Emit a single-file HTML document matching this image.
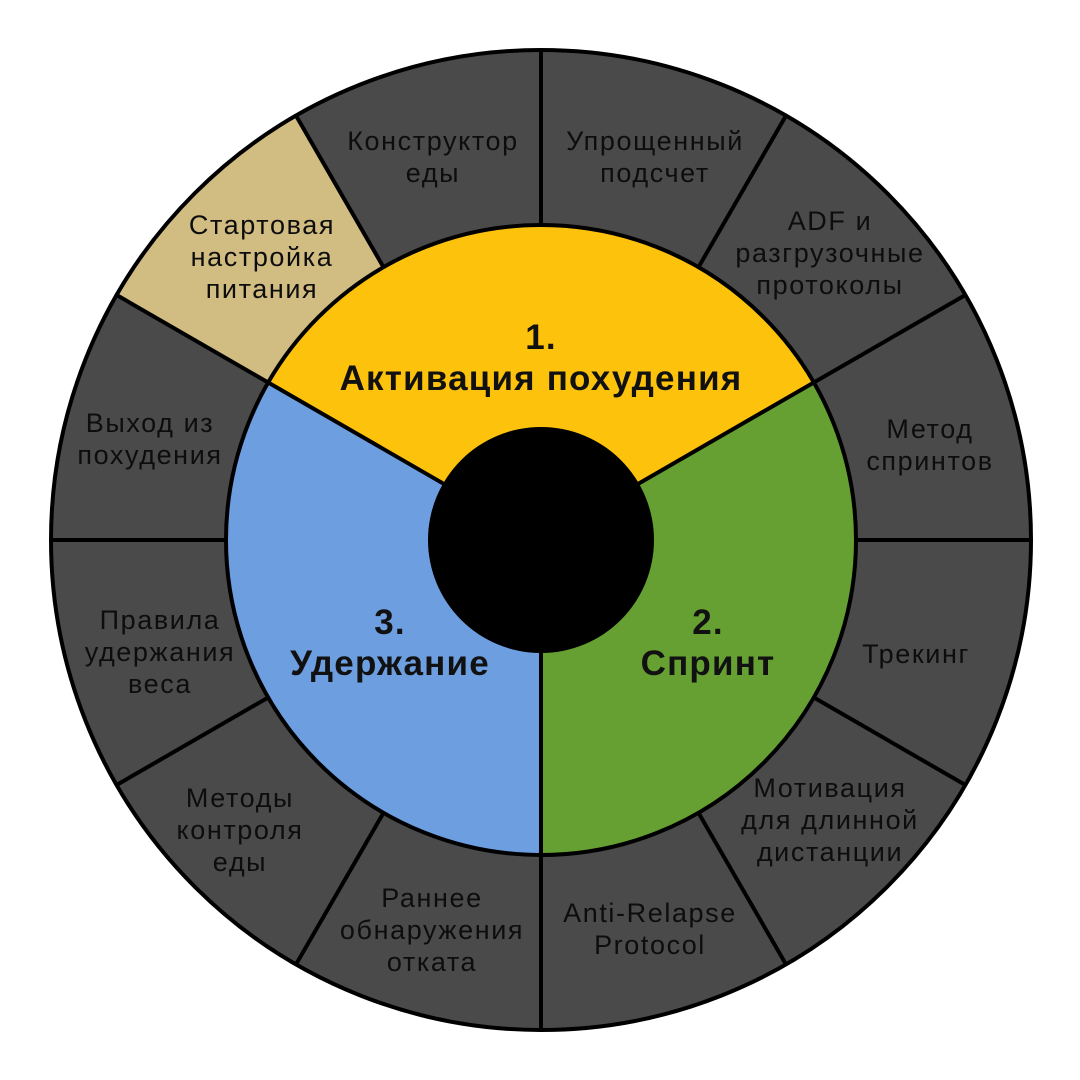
<!DOCTYPE html>
<html><head><meta charset="utf-8"><style>
html,body{margin:0;padding:0;background:#fff;}
svg{display:block}
text{font-family:"Liberation Sans",sans-serif;text-anchor:middle;}
.o{font-size:27px;letter-spacing:1.6px;fill:#0d0d0d;}
.i{font-size:35px;letter-spacing:1.2px;font-weight:bold;fill:#111;}
</style></head><body>
<svg width="1080" height="1080" viewBox="0 0 1080 1080">
<rect width="1080" height="1080" fill="#fff"/>
<circle cx="541" cy="540" r="490" fill="#4a4a4a"/>
<path d="M541 540 L116.6 295 A490 490 0 0 1 296 115.6 Z" fill="#d1bc81"/>
<g stroke="#000" stroke-width="4">
<line x1="541" y1="540" x2="541" y2="50"/>
<line x1="541" y1="540" x2="786" y2="115.6"/>
<line x1="541" y1="540" x2="965.4" y2="295"/>
<line x1="541" y1="540" x2="1031" y2="540"/>
<line x1="541" y1="540" x2="965.4" y2="785"/>
<line x1="541" y1="540" x2="786" y2="964.4"/>
<line x1="541" y1="540" x2="541" y2="1030"/>
<line x1="541" y1="540" x2="296" y2="964.4"/>
<line x1="541" y1="540" x2="116.6" y2="785"/>
<line x1="541" y1="540" x2="51" y2="540"/>
<line x1="541" y1="540" x2="116.6" y2="295"/>
<line x1="541" y1="540" x2="296" y2="115.6"/>
</g>
<circle cx="541" cy="540" r="490" fill="none" stroke="#000" stroke-width="4"/>
<path d="M541 540 L268.2 382.5 A315 315 0 0 1 813.8 382.5 Z" fill="#fdc20b"/>
<path d="M541 540 L813.8 382.5 A315 315 0 0 1 541 855 Z" fill="#66a032"/>
<path d="M541 540 L541 855 A315 315 0 0 1 268.2 382.5 Z" fill="#6d9ee0"/>
<g stroke="#000" stroke-width="4">
<line x1="541" y1="540" x2="268.2" y2="382.5"/>
<line x1="541" y1="540" x2="813.8" y2="382.5"/>
<line x1="541" y1="540" x2="541" y2="855"/>
</g>
<circle cx="541" cy="540" r="315" fill="none" stroke="#000" stroke-width="4"/>
<circle cx="541" cy="540" r="113" fill="#000"/>

<text class="o" x="433" y="150">Конструктор</text><text class="o" x="433" y="182">еды</text>
<text class="o" x="655" y="150">Упрощенный</text><text class="o" x="655" y="182">подсчет</text>
<text class="o" x="830" y="230">ADF и</text><text class="o" x="830" y="262">разгрузочные</text><text class="o" x="830" y="294">протоколы</text>
<text class="o" x="930" y="438">Метод</text><text class="o" x="930" y="470">спринтов</text>
<text class="o" x="916" y="663">Трекинг</text>
<text class="o" x="830" y="797">Мотивация</text><text class="o" x="830" y="829">для длинной</text><text class="o" x="830" y="861">дистанции</text>
<text class="o" x="650" y="922">Anti-Relapse</text><text class="o" x="650" y="954">Protocol</text>
<text class="o" x="432" y="907">Раннее</text><text class="o" x="432" y="939">обнаружения</text><text class="o" x="432" y="971">отката</text>
<text class="o" x="240" y="807">Методы</text><text class="o" x="240" y="839">контроля</text><text class="o" x="240" y="871">еды</text>
<text class="o" x="160" y="629">Правила</text><text class="o" x="160" y="661">удержания</text><text class="o" x="160" y="693">веса</text>
<text class="o" x="150" y="432">Выход из</text><text class="o" x="150" y="464">похудения</text>
<text class="o" x="262" y="234">Стартовая</text><text class="o" x="262" y="266">настройка</text><text class="o" x="262" y="298">питания</text>

<text class="i" x="541" y="349">1.</text><text class="i" x="541" y="390">Активация похудения</text>
<text class="i" x="390" y="634">3.</text><text class="i" x="390" y="675">Удержание</text>
<text class="i" x="708" y="634">2.</text><text class="i" x="708" y="675">Спринт</text>
</svg>
</body></html>
